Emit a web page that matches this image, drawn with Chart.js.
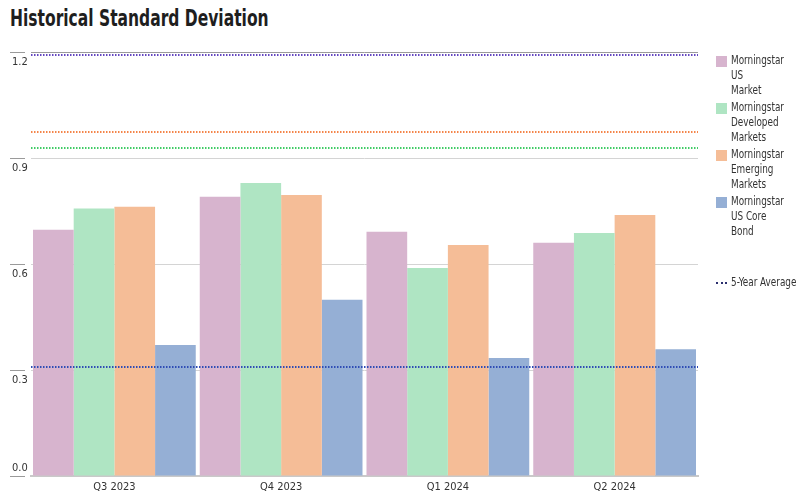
<!DOCTYPE html>
<html>
<head>
<meta charset="utf-8">
<script src="https://cdn.jsdelivr.net/npm/chart.js@4.4.1/dist/chart.umd.min.js"></script>
<style>
  body { margin: 0; background: #fff; }
  #wrap { position: relative; width: 801px; height: 495px; font-family: 'DejaVu Sans Condensed', 'Liberation Sans Narrow', sans-serif; color: #222; }
  #title { position: absolute; left: 10px; top: 5px; font-size: 23px; font-weight: bold; white-space: nowrap; transform-origin: 0 0; transform: scaleX(0.75); color: #1e1e1e; }
  #HistStdDev { position: absolute; left: 0; top: 0; }
  #legend { position: absolute; left: 716px; top: 53px; font-size: 12px; line-height: 15px; color: #333; }
  .item { display: flex; margin-bottom: 2px; white-space: nowrap; }
  .item span { display: inline-block; transform-origin: 0 0; transform: scaleX(0.82); }
  .box { width: 11px; height: 11px; margin-top: 3px; margin-right: 4px; flex: none; }
  .dots { width: 11px; height: 0; margin-top: 7px; margin-right: 4px; border-top: 2px dotted #2b2f6e; flex: none; }
</style>
</head>
<body>
<div id="wrap">
  <div id="title">Historical Standard Deviation</div>
  <canvas id="HistStdDev" width="801" height="495"></canvas>
  <div id="legend"></div>
</div>
<script>
// data
var quarters = ["Q3 2023", "Q4 2023", "Q1 2024", "Q2 2024"];
var usMarket = [0.697, 0.790, 0.691, 0.660];
var developed = [0.757, 0.829, 0.589, 0.688];
var emerging = [0.762, 0.795, 0.654, 0.739];
var usCoreBond = [0.371, 0.499, 0.334, 0.359];
// 5-year averages
var avgUsMarket = 1.191;
var avgDeveloped = 0.929;
var avgEmerging = 0.974;
var avgUsCoreBond = 0.308;
var yTicks = [0, 0.3, 0.6, 0.9, 1.2];
var seriesNames = [
  ["Morningstar", "US", "Market"],
  ["Morningstar", "Developed", "Markets"],
  ["Morningstar", "Emerging", "Markets"],
  ["Morningstar", "US Core", "Bond"]
];
var avgLabel = "5-Year Average";

var barColors = ["#d7b4ce", "#afe5c3", "#f5bd97", "#95afd5"];
var lineColors = ["#6447c0", "#40cc66", "#f4854a", "#2f4db5"];
var fontFamily = "'DejaVu Sans Condensed', 'Liberation Sans Narrow', sans-serif";

Chart.defaults.font.family = fontFamily;

var barData = [usMarket, developed, emerging, usCoreBond];
var avgData = [avgUsMarket, avgDeveloped, avgEmerging, avgUsCoreBond];

var datasets = barData.map(function(d, i) {
  return {
    label: seriesNames[i].join(" "),
    data: d,
    backgroundColor: barColors[i],
    borderWidth: 0
  };
});

// 5-year average lines, full width of the plot, placed with the y scale
var avgLines = {
  id: "avgLines",
  afterDatasetsDraw: function(chart) {
    var area = chart.chartArea;
    var y = chart.scales.y;
    var c = chart.ctx;
    c.save();
    c.lineWidth = 2;
    c.setLineDash([1.5, 1.5]);
    avgData.forEach(function(v, i) {
      var py = Math.round(y.getPixelForValue(v));
      c.strokeStyle = lineColors[i];
      c.beginPath();
      c.moveTo(area.left, py);
      c.lineTo(area.right, py);
      c.stroke();
    });
    c.restore();
  }
};

var ctx = document.getElementById("HistStdDev").getContext("2d");
var myChart = new Chart(ctx, {
  type: "bar",
  data: {
    labels: quarters,
    datasets: datasets
  },
  options: {
    responsive: false,
    animation: false,
    devicePixelRatio: 1,
    layout: { autoPadding: false, padding: { left: 12, top: 52, right: 103, bottom: 0 } },
    datasets: { bar: { categoryPercentage: 0.976, barPercentage: 1 } },
    plugins: { legend: { display: false }, tooltip: { enabled: false } },
    scales: {
      x: {
        afterFit: function(s) { s.height = 19; },
        grid: { display: false },
        border: { color: "#c9c9c9", width: 2 },
        ticks: { color: "#333", padding: -3, font: { size: 11 } }
      },
      y: {
        min: 0,
        max: 1.2,
        afterFit: function(s) { s.width = 19; s.paddingTop = 0; s.paddingBottom = 0; },
        afterBuildTicks: function(s) { s.ticks = yTicks.map(function(v) { return { value: v }; }); },
        border: { display: false },
        grid: {
          color: function(c) { return c.tick && c.tick.value === 1.2 ? "#9a9a9a" : "#d4d4d4"; },
          tickLength: 21,
          tickColor: "#9a9a9a",
          tickBorderDash: [15, 40]
        },
        ticks: {
          crossAlign: "far",
          labelOffset: 10,
          color: "#333",
          font: { size: 11, lineHeight: 3.3 },
          // 0.0 sits above its tick, the others below
          callback: function(v) { return v === 0 ? ["0.0", ""] : v.toFixed(1); }
        }
      }
    }
  },
  plugins: [avgLines]
});

// legend
var legend = document.getElementById("legend");
seriesNames.forEach(function(lines, i) {
  var item = document.createElement("div");
  item.className = "item";
  item.innerHTML = '<div class="box" style="background:' + barColors[i] + '"></div><span>' + lines.join("<br>") + "</span>";
  legend.appendChild(item);
});
var avgItem = document.createElement("div");
avgItem.className = "item";
avgItem.style.marginTop = "36px";
avgItem.innerHTML = '<div class="dots"></div><span>' + avgLabel + "</span>";
legend.appendChild(avgItem);
</script>
</body>
</html>
